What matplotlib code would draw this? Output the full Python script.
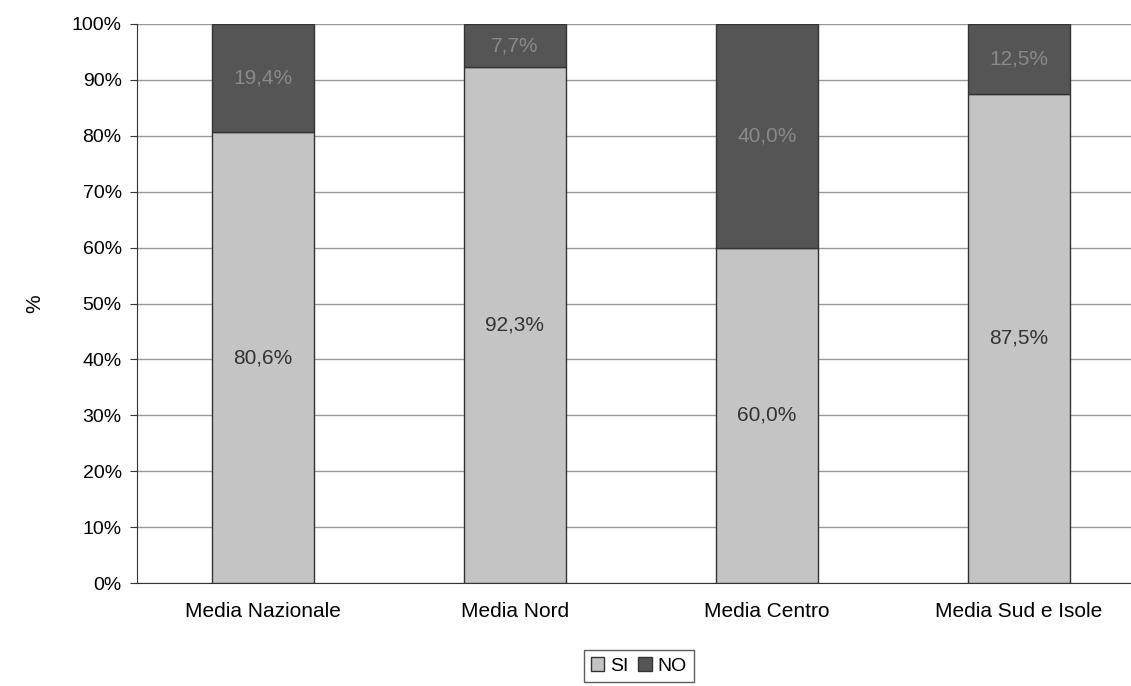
import matplotlib

matplotlib.use("Agg")
import matplotlib.pyplot as plt
from matplotlib.ticker import PercentFormatter

categories = ["Media Nazionale", "Media Nord", "Media Centro", "Media Sud e Isole"]
si_values = [80.6, 92.3, 60.0, 87.5]
no_values = [19.4, 7.7, 40.0, 12.5]
si_labels = ["80,6%", "92,3%", "60,0%", "87,5%"]
no_labels = ["19,4%", "7,7%", "40,0%", "12,5%"]

plt.rcParams["font.family"] = ["Liberation Sans", "DejaVu Sans"]

fig = plt.figure(figsize=(11.31, 6.86), dpi=100)
ax = fig.add_axes([137 / 1131, 1 - 583 / 686, 1 - 137 / 1131, 559 / 686])

x = list(range(len(categories)))
w = 0.405
ax.bar(x, si_values, width=w, color="#c4c4c4", edgecolor="#333333", lw=1, label="SI", zorder=3)
ax.bar(x, no_values, width=w, bottom=si_values, color="#555555", edgecolor="#333333", lw=1, label="NO", zorder=3)

for i in x:
    ax.text(i, si_values[i] / 2, si_labels[i], ha="center", va="center", fontsize=15, color="#333333", zorder=4)
    ax.text(i, si_values[i] + no_values[i] / 2, no_labels[i], ha="center", va="center", fontsize=15, color="#8a8a8a", zorder=4)

ax.set_xlim(-0.5, -0.5 + 994 / 252)
ax.set_ylim(0, 100)
ax.set_yticks(range(0, 101, 10))
ax.yaxis.set_major_formatter(PercentFormatter(decimals=0))
ax.set_xticks(x)
ax.set_xticklabels(categories, fontsize=15)
ax.tick_params(axis="x", length=0, pad=14)
ax.tick_params(axis="y", labelsize=14, length=5, pad=6, color="#333333", direction="out")
ax.yaxis.grid(True, color="#999999", lw=1, zorder=0)
for s in ["top", "right"]:
    ax.spines[s].set_visible(False)
ax.spines["left"].set_color("#333333")
ax.spines["bottom"].set_color("#333333")
ax.set_ylabel("%", fontsize=15, labelpad=20)

leg = fig.legend(loc="center", bbox_to_anchor=(639 / 1131, 1 - 666 / 686), ncol=2, fontsize=14,
                 frameon=True, fancybox=False, edgecolor="#333333", handlelength=0.7, handleheight=0.7,
                 handletextpad=0.3, columnspacing=0.5, borderpad=0.35)

fig.savefig("out.png", dpi=100)
